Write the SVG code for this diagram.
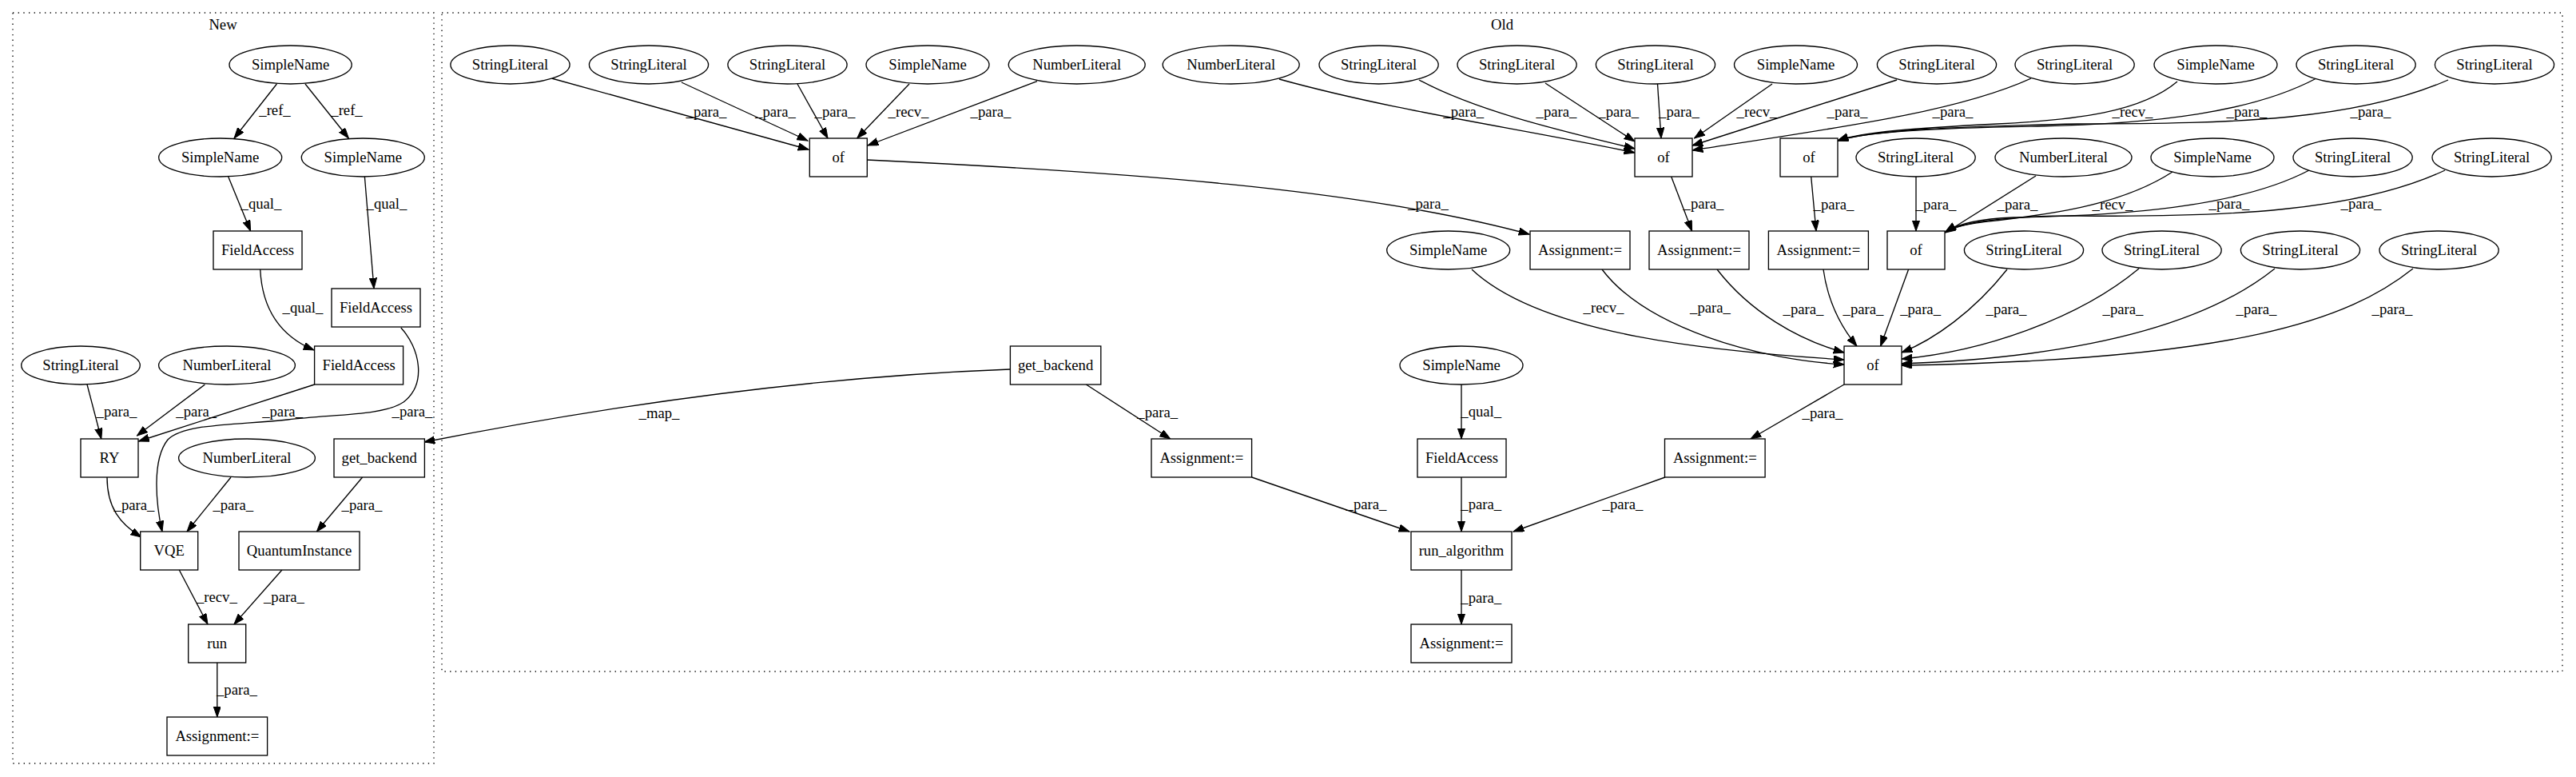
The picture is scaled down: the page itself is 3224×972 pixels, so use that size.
<svg xmlns="http://www.w3.org/2000/svg" width="3224" height="972" viewBox="0 0 3224 972">
<style>
text{font-family:"Liberation Serif","Times New Roman",serif;font-size:18.67px;fill:#000;text-anchor:middle}
.n ellipse,.n rect{fill:#fff;stroke:#000;stroke-width:1.33}
.cl{fill:none;stroke:#000;stroke-width:1.33;stroke-dasharray:1.33,5.33}
.e path{fill:none;stroke:#000;stroke-width:1.33;marker-end:url(#ah)}
</style>
<defs>
<marker id="ah" markerUnits="userSpaceOnUse" markerWidth="14" markerHeight="10" refX="13.3" refY="4.67" orient="auto"><path d="M0,0 L13.3,4.67 L0,9.33 z" fill="#000" stroke="#000" stroke-width="1"/></marker>
</defs>
<rect width="3224" height="972" fill="#fff"/>
<g id="cluster_new"><rect class="cl" x="16" y="16" width="527" height="939"/><text x="279" y="37">New</text></g>
<g id="cluster_old"><rect class="cl" x="553" y="16" width="2654" height="824"/><text x="1880" y="37">Old</text></g>

<g class="e" id="connectors">
<!-- New -->
<path d="M346.4,105 L293,173"/><text x="344" y="144">_ref_</text>
<path d="M382,105 L436.4,173"/><text x="434" y="144">_ref_</text>
<path d="M285.7,221 L313.6,289"/><text x="327" y="261">_qual_</text>
<path d="M456.4,221 L468,361"/><text x="484" y="261">_qual_</text>
<path d="M325.7,337 C328,385 350,420 393,438"/><text x="379" y="391">_qual_</text>
<path d="M501.8,410 C525,435 535,480 505,503 C480,520 420,518 360,525 C290,532 230,530 210,550 C190,575 195,630 203,665"/><text x="516" y="521">_para_</text>
<path d="M393.6,481 L173.5,552"/><text x="353.6" y="521">_para_</text>
<path d="M109,481 L126.8,549"/><text x="146" y="521">_para_</text>
<path d="M256.4,481 L171.4,545"/><text x="245.7" y="521">_para_</text>
<path d="M134,597 C134,635 150,655 176.8,672"/><text x="168" y="638">_para_</text>
<path d="M289,597 L234,665"/><text x="291.8" y="638">_para_</text>
<path d="M453.6,597 L396.4,665"/><text x="453" y="638">_para_</text>
<path d="M224.3,713 L260,781"/><text x="271.4" y="753">_recv_</text>
<path d="M352.9,713 L292.9,781"/><text x="355.4" y="753">_para_</text>
<path d="M271.8,829 L271.8,897"/><text x="296.4" y="869">_para_</text>
<!-- map -->
<path d="M1264,462 C1050,470 800,500 531,553"/><text x="825" y="523">_map_</text>
<!-- Old: into of1 -->
<path d="M690.4,98 L1012,187"/><text x="884" y="146">_para_</text>
<path d="M852.9,103 L1011,176"/><text x="970.5" y="146">_para_</text>
<path d="M998,105 L1036,173"/><text x="1045" y="146">_para_</text>
<path d="M1138,105 L1072.7,173"/><text x="1137" y="146">_recv_</text>
<path d="M1298,101.7 L1086,182"/><text x="1240" y="146">_para_</text>
<!-- of1 -> A1 -->
<path d="M1085,200 C1400,215 1700,235 1914,293"/><text x="1787.5" y="261">_para_</text>
<!-- into of2 -->
<path d="M1601,99 C1750,140 1900,160 2046,191"/><text x="1831.7" y="146">_para_</text>
<path d="M1776,100 C1850,140 1960,165 2046,186"/><text x="1948" y="146">_para_</text>
<path d="M1934,104 L2046,177"/><text x="2025.7" y="146">_para_</text>
<path d="M2074.5,105 L2079,173"/><text x="2101.5" y="146">_para_</text>
<path d="M2218,105 L2120.5,173"/><text x="2199" y="146">_recv_</text>
<path d="M2374,100 L2118,182"/><text x="2312" y="146">_para_</text>
<path d="M2542,98 C2450,140 2300,160 2118,188"/><text x="2444" y="146">_para_</text>
<!-- into of3 -->
<path d="M2725,102 C2680,140 2600,150 2500,155 C2400,160 2330,165 2300,176"/><text x="2669" y="146">_recv_</text>
<path d="M2899,98 C2820,140 2700,155 2550,158 C2420,160 2330,166 2300,176"/><text x="2812" y="146">_para_</text>
<path d="M3064,100 C2950,150 2800,155 2600,155 C2450,158 2340,163 2300,176"/><text x="2967" y="146">_para_</text>
<!-- of2->A2, of3->A3 -->
<path d="M2091.7,221 L2117.6,289"/><text x="2132" y="261">_para_</text>
<path d="M2266.7,221 L2273,289"/><text x="2295" y="262">_para_</text>
<!-- into of4 -->
<path d="M2398,221 L2398,289"/><text x="2423" y="262">_para_</text>
<path d="M2548,220 L2435,291"/><text x="2525" y="262">_para_</text>
<path d="M2719,215 C2650,260 2550,270 2480,278 C2455,281 2443,285 2435,290"/><text x="2644" y="262">_recv_</text>
<path d="M2890,213 C2800,260 2650,270 2520,272 C2470,274 2447,282 2435,290"/><text x="2790" y="261">_para_</text>
<path d="M3060,213 C2950,265 2780,272 2600,270 C2500,270 2452,280 2435,290"/><text x="2955" y="261">_para_</text>
<!-- into big of -->
<path d="M1842,337 C1930,420 2150,440 2308,450"/><text x="2007" y="391">_recv_</text>
<path d="M2005,337 C2060,410 2200,450 2308,456"/><text x="2140.5" y="391">_para_</text>
<path d="M2149,337 C2190,390 2250,425 2308,441"/><text x="2257" y="393">_para_</text>
<path d="M2282,337 C2288,380 2305,410 2324,433"/><text x="2332" y="393">_para_</text>
<path d="M2388.6,337 L2353.6,433"/><text x="2403.6" y="393">_para_</text>
<path d="M2512,337 C2470,390 2420,425 2380,441"/><text x="2511" y="393">_para_</text>
<path d="M2677,336 C2600,400 2480,440 2380,449"/><text x="2657" y="393">_para_</text>
<path d="M2847,336 C2780,390 2650,445 2380,455"/><text x="2824" y="393">_para_</text>
<path d="M3020,336 C2940,400 2800,450 2380,457"/><text x="2994" y="393">_para_</text>
<!-- lower -->
<path d="M2308,481 L2191,549"/><text x="2281" y="523">_para_</text>
<path d="M1359.4,481 L1464.7,549"/><text x="1448.7" y="522">_para_</text>
<path d="M1829,481 L1829,549"/><text x="1853.7" y="521">_qual_</text>
<path d="M1566.7,597 L1764,665"/><text x="1710" y="637">_para_</text>
<path d="M1829,597 L1829,665"/><text x="1853.7" y="637">_para_</text>
<path d="M2084,597 L1894,665"/><text x="2031" y="637">_para_</text>
<path d="M1829,713 L1829,781"/><text x="1853.7" y="754">_para_</text>
</g>

<!-- New nodes -->
<g class="n" id="new_simplename0"><ellipse cx="363.6" cy="81" rx="76.6" ry="24"/><text x="363.6" y="87">SimpleName</text></g>
<g class="n" id="new_simplename1"><ellipse cx="275.7" cy="197" rx="77" ry="24"/><text x="275.7" y="203">SimpleName</text></g>
<g class="n" id="new_simplename2"><ellipse cx="454.3" cy="197" rx="77" ry="24"/><text x="454.3" y="203">SimpleName</text></g>
<g class="n" id="new_fieldaccess0"><rect x="267" y="289" width="111" height="48"/><text x="322.5" y="319">FieldAccess</text></g>
<g class="n" id="new_fieldaccess1"><rect x="415" y="361" width="111" height="48"/><text x="470.5" y="391">FieldAccess</text></g>
<g class="n" id="new_fieldaccess2"><rect x="393.6" y="433" width="111" height="48"/><text x="449.1" y="463">FieldAccess</text></g>
<g class="n" id="new_stringliteral0"><ellipse cx="101" cy="457" rx="74.3" ry="24"/><text x="101" y="463">StringLiteral</text></g>
<g class="n" id="new_numberliteral0"><ellipse cx="284" cy="457" rx="85.4" ry="24"/><text x="284" y="463">NumberLiteral</text></g>
<g class="n" id="new_ry"><rect x="101" y="549" width="72" height="48"/><text x="137" y="579">RY</text></g>
<g class="n" id="new_numberliteral1"><ellipse cx="309" cy="573" rx="85.4" ry="24"/><text x="309" y="579">NumberLiteral</text></g>
<g class="n" id="new_get_backend"><rect x="418" y="549" width="113.4" height="48"/><text x="474.7" y="579">get_backend</text></g>
<g class="n" id="new_vqe"><rect x="175.7" y="665" width="72" height="48"/><text x="211.7" y="695">VQE</text></g>
<g class="n" id="new_quantuminstance"><rect x="299" y="665" width="151" height="48"/><text x="374.5" y="695">QuantumInstance</text></g>
<g class="n" id="new_run"><rect x="235.7" y="781" width="72" height="48"/><text x="271.7" y="811">run</text></g>
<g class="n" id="new_assignment"><rect x="209" y="897" width="125.6" height="48"/><text x="271.8" y="927">Assignment:=</text></g>

<!-- Old nodes row 1 -->
<g class="n" id="old_sl1"><ellipse cx="638.5" cy="81" rx="74.6" ry="24"/><text x="638.5" y="87">StringLiteral</text></g>
<g class="n" id="old_sl2"><ellipse cx="812" cy="81" rx="74.6" ry="24"/><text x="812" y="87">StringLiteral</text></g>
<g class="n" id="old_sl3"><ellipse cx="985.5" cy="81" rx="74.6" ry="24"/><text x="985.5" y="87">StringLiteral</text></g>
<g class="n" id="old_sn1"><ellipse cx="1161" cy="81" rx="77" ry="24"/><text x="1161" y="87">SimpleName</text></g>
<g class="n" id="old_nl1"><ellipse cx="1347.7" cy="81" rx="85.5" ry="24"/><text x="1347.7" y="87">NumberLiteral</text></g>
<g class="n" id="old_nl2"><ellipse cx="1540.7" cy="81" rx="85.5" ry="24"/><text x="1540.7" y="87">NumberLiteral</text></g>
<g class="n" id="old_sl4"><ellipse cx="1725.6" cy="81" rx="74.6" ry="24"/><text x="1725.6" y="87">StringLiteral</text></g>
<g class="n" id="old_sl5"><ellipse cx="1898.6" cy="81" rx="74.6" ry="24"/><text x="1898.6" y="87">StringLiteral</text></g>
<g class="n" id="old_sl6"><ellipse cx="2072" cy="81" rx="74.6" ry="24"/><text x="2072" y="87">StringLiteral</text></g>
<g class="n" id="old_sn2"><ellipse cx="2247.5" cy="81" rx="77" ry="24"/><text x="2247.5" y="87">SimpleName</text></g>
<g class="n" id="old_sl7"><ellipse cx="2424" cy="81" rx="74.6" ry="24"/><text x="2424" y="87">StringLiteral</text></g>
<g class="n" id="old_sl8"><ellipse cx="2596.6" cy="81" rx="74.6" ry="24"/><text x="2596.6" y="87">StringLiteral</text></g>
<g class="n" id="old_sn3"><ellipse cx="2773" cy="81" rx="77" ry="24"/><text x="2773" y="87">SimpleName</text></g>
<g class="n" id="old_sl9"><ellipse cx="2948.6" cy="81" rx="74.6" ry="24"/><text x="2948.6" y="87">StringLiteral</text></g>
<g class="n" id="old_sl10"><ellipse cx="3122" cy="81" rx="74.6" ry="24"/><text x="3122" y="87">StringLiteral</text></g>
<!-- row 2 -->
<g class="n" id="old_of1"><rect x="1013.3" y="173" width="72" height="48"/><text x="1049.3" y="203">of</text></g>
<g class="n" id="old_of2"><rect x="2046" y="173" width="72" height="48"/><text x="2082" y="203">of</text></g>
<g class="n" id="old_of3"><rect x="2228" y="173" width="72" height="48"/><text x="2264" y="203">of</text></g>
<g class="n" id="old_sl11"><ellipse cx="2397.6" cy="197" rx="74.6" ry="24"/><text x="2397.6" y="203">StringLiteral</text></g>
<g class="n" id="old_nl3"><ellipse cx="2582.5" cy="197" rx="85.5" ry="24"/><text x="2582.5" y="203">NumberLiteral</text></g>
<g class="n" id="old_sn4"><ellipse cx="2769" cy="197" rx="77" ry="24"/><text x="2769" y="203">SimpleName</text></g>
<g class="n" id="old_sl12"><ellipse cx="2944.6" cy="197" rx="74.6" ry="24"/><text x="2944.6" y="203">StringLiteral</text></g>
<g class="n" id="old_sl13"><ellipse cx="3118.6" cy="197" rx="74.6" ry="24"/><text x="3118.6" y="203">StringLiteral</text></g>
<!-- row 3 -->
<g class="n" id="old_sn5"><ellipse cx="1812.7" cy="313" rx="77" ry="24"/><text x="1812.7" y="319">SimpleName</text></g>
<g class="n" id="old_as1"><rect x="1915" y="289" width="125" height="48"/><text x="1977.5" y="319">Assignment:=</text></g>
<g class="n" id="old_as2"><rect x="2064" y="289" width="125" height="48"/><text x="2126.5" y="319">Assignment:=</text></g>
<g class="n" id="old_as3"><rect x="2213.4" y="289" width="125" height="48"/><text x="2275.9" y="319">Assignment:=</text></g>
<g class="n" id="old_of4"><rect x="2362" y="289" width="72" height="48"/><text x="2398" y="319">of</text></g>
<g class="n" id="old_sl14"><ellipse cx="2533" cy="313" rx="74.6" ry="24"/><text x="2533" y="319">StringLiteral</text></g>
<g class="n" id="old_sl15"><ellipse cx="2705.6" cy="313" rx="74.6" ry="24"/><text x="2705.6" y="319">StringLiteral</text></g>
<g class="n" id="old_sl16"><ellipse cx="2879" cy="313" rx="74.6" ry="24"/><text x="2879" y="319">StringLiteral</text></g>
<g class="n" id="old_sl17"><ellipse cx="3052.6" cy="313" rx="74.6" ry="24"/><text x="3052.6" y="319">StringLiteral</text></g>
<!-- row 4 -->
<g class="n" id="old_get_backend"><rect x="1264.4" y="433" width="113.4" height="48"/><text x="1321.1" y="463">get_backend</text></g>
<g class="n" id="old_sn6"><ellipse cx="1829" cy="457" rx="77" ry="24"/><text x="1829" y="463">SimpleName</text></g>
<g class="n" id="old_of5"><rect x="2308" y="433" width="72" height="48"/><text x="2344" y="463">of</text></g>
<!-- row 5 -->
<g class="n" id="old_as4"><rect x="1441" y="549" width="125.6" height="48"/><text x="1503.8" y="579">Assignment:=</text></g>
<g class="n" id="old_fieldaccess"><rect x="1774" y="549" width="111" height="48"/><text x="1829.5" y="579">FieldAccess</text></g>
<g class="n" id="old_as5"><rect x="2083.5" y="549" width="125.6" height="48"/><text x="2146.3" y="579">Assignment:=</text></g>
<!-- row 6,7 -->
<g class="n" id="old_run_algorithm"><rect x="1766" y="665" width="126" height="48"/><text x="1829" y="695">run_algorithm</text></g>
<g class="n" id="old_as6"><rect x="1766" y="781" width="126" height="48"/><text x="1829" y="811">Assignment:=</text></g>
</svg>
